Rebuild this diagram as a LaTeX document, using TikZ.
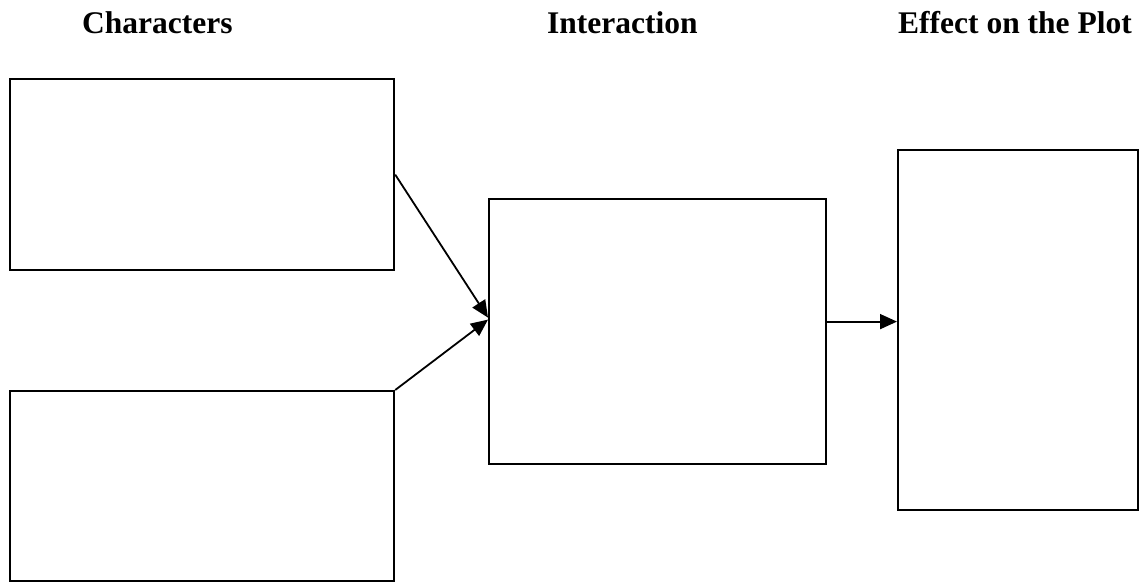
\documentclass[tikz,border=0pt]{standalone}
\usepackage{fontspec}
\setmainfont{Liberation Serif}
\usetikzlibrary{arrows.meta,calc}
\begin{document}
\begin{tikzpicture}[x=1pt,y=-1pt,
  box/.style={draw,line width=2.2pt,inner sep=0pt,anchor=north west},
  title/.style={anchor=base west,inner sep=0pt,font=\fontsize{31.5}{36}\selectfont\bfseries},
  link/.style={line width=1.8pt,-{Triangle[length=17pt,width=15pt]}}]
  \useasboundingbox (0,0) rectangle (1143,582);
  % column headings
  \node[title] (h1) at (82,33) {Characters};
  \node[title] (h2) at (547,33) {Interaction};
  \node[title] (h3) at (898,33) {Effect on the Plot};
  % boxes
  \node[box,minimum width=384pt,minimum height=191pt] (c1) at (9,78) {};
  \node[box,minimum width=384pt,minimum height=190pt] (c2) at (9,390) {};
  \node[box,minimum width=337pt,minimum height=265pt] (mid) at (488,198) {};
  \node[box,minimum width=240pt,minimum height=360pt] (eff) at (897,149) {};
  % entry points on the boxes
  \coordinate (in1) at ($(mid.west)+(0,-14)$);
  \coordinate (in2) at ($(mid.west)+(0,-12)$);
  \coordinate (out) at ($(mid.east)+(0,-10)$);
  % connectors
  \draw[link] (c1.east) -- (in1);
  \draw[link] (c2.north east) -- (in2);
  \draw[link] (out) -- (out -| eff.west);
\end{tikzpicture}
\end{document}
